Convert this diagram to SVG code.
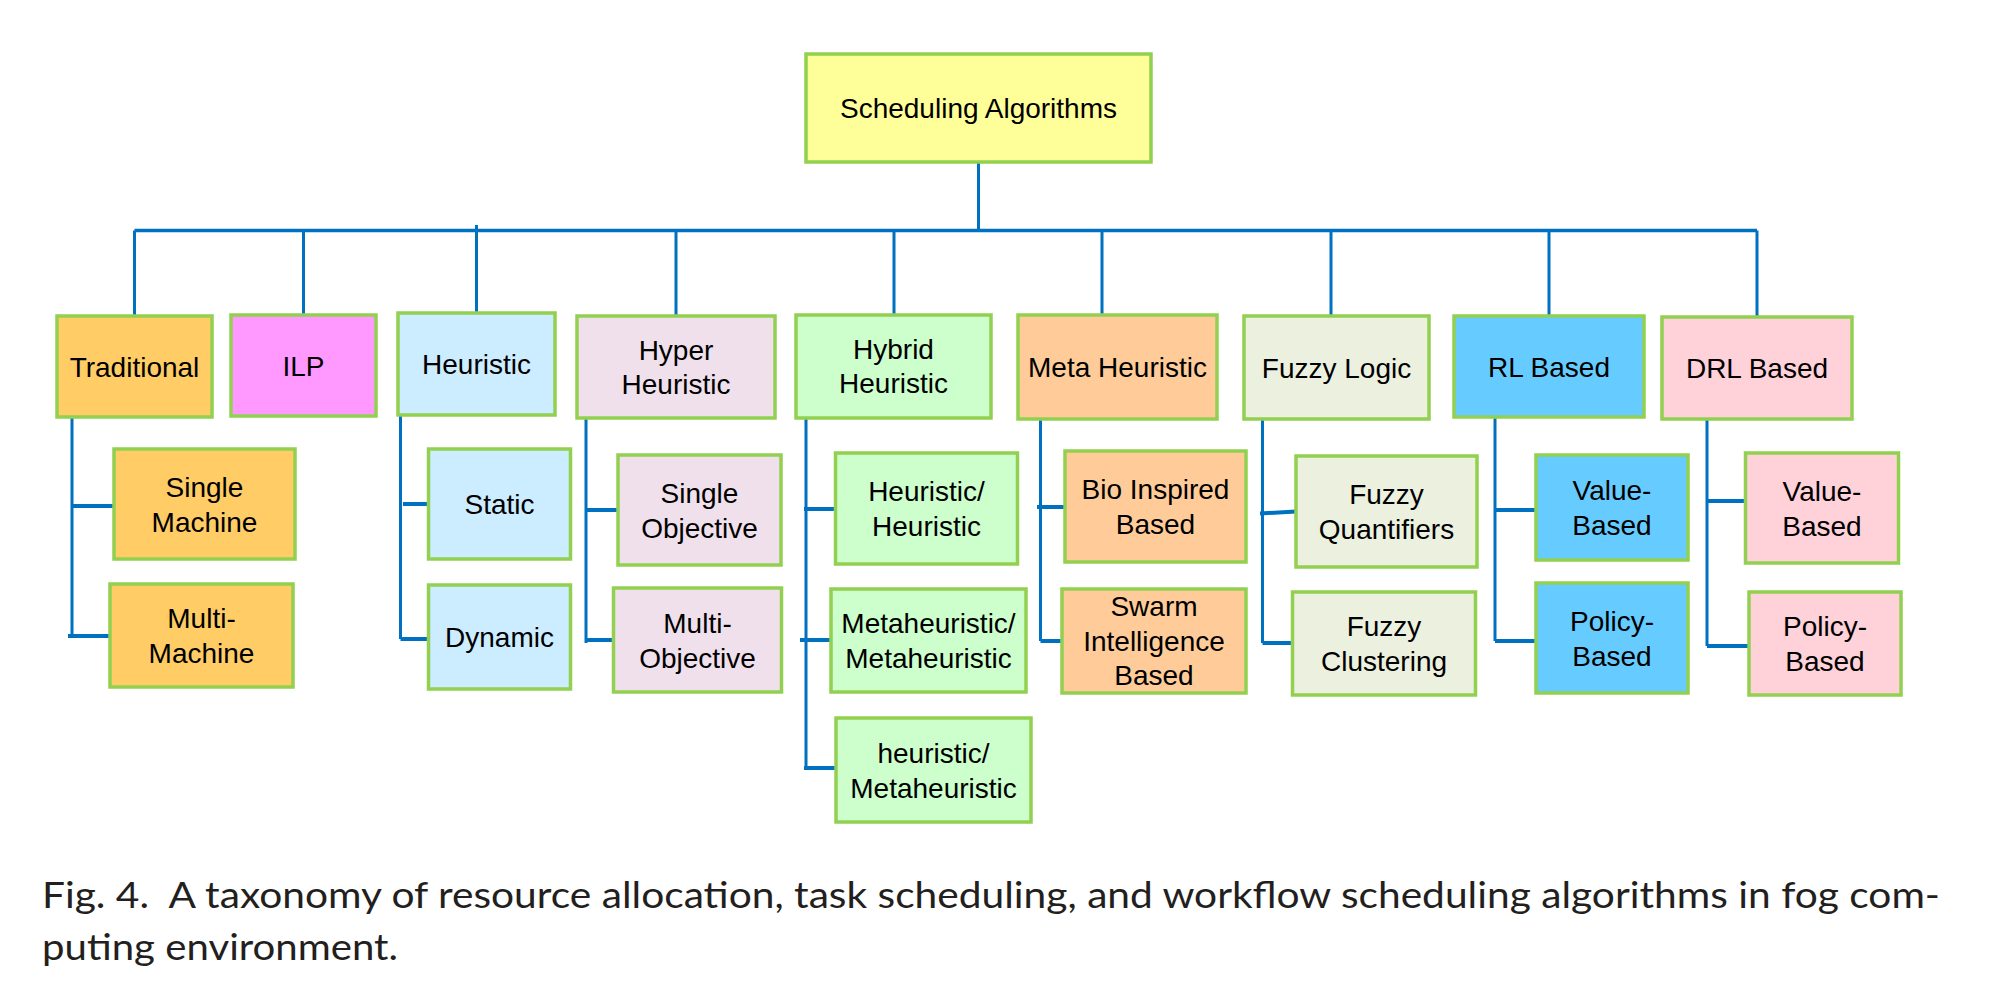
<svg xmlns="http://www.w3.org/2000/svg" width="2006" height="988" viewBox="0 0 2006 988">
<style>
.box{stroke:#92D050;stroke-width:3.5}
.t{font-family:"Liberation Sans",Arial,sans-serif;font-size:28px;fill:#000;text-anchor:middle}
.ln{stroke:#0070C0;stroke-width:3;fill:none}
.br{stroke:#0070C0;stroke-width:4;fill:none}
.cap{font-family:Lato,"Open Sans",sans-serif;font-size:37px;fill:#231F20}
.c-root{fill:#FFFF99}.c-trad{fill:#FFCC66}.c-ilp{fill:#FF99FF}.c-heur{fill:#CCECFF}.c-hyper{fill:#F0E0EC}
.c-hyb{fill:#CCFFCC}.c-meta{fill:#FFCC99}.c-fuz{fill:#EBF0DF}.c-rl{fill:#66CCFF}.c-drl{fill:#FFD1D9}
</style>
<rect width="2006" height="988" fill="#fff"/>
<g id="connectors">
<path class="ln" d="M978.5 162V232"/>
<path class="ln" style="stroke-width:3.5" d="M134.5 230.5H1757"/>
<path class="ln" d="M134.5 230.5V316M303.5 230.5V315M476.5 225V313M676 230.5V316M894 230.5V315M1102 230.5V315M1331 230.5V316M1549 230.5V316M1757 230.5V317"/>
<path class="ln" d="M72 417V636M400.5 415V639M586 418V643M806 418V768M1040.5 419V641M1262.5 419V643M1495 417V641M1707 419V646"/>
<path class="br" d="M72 506H114M68 636H110M403 504H428.5M400.5 639H428.5M586 510H618M586 640H613.5M804 509H835.5M800 640H831M804 768H836M1037 507H1065M1040.5 641H1062M1260 513.5L1296 511.5M1262.5 643H1292.5M1495 510H1536M1495 641H1536M1707 501H1745.5M1707 646H1749"/>
</g>
<g id="root"><rect class="box c-root" x="806" y="54" width="345" height="108"/><text class="t" x="978.5" y="118">Scheduling Algorithms</text></g>
<g id="traditional"><rect class="box c-trad" x="57" y="316" width="155" height="101"/><text class="t" x="134.5" y="376.5">Traditional</text></g>
<g id="ilp"><rect class="box c-ilp" x="231" y="315" width="145" height="101"/><text class="t" x="303.5" y="375.5">ILP</text></g>
<g id="heuristic"><rect class="box c-heur" x="398" y="313" width="157" height="102"/><text class="t" x="476.5" y="374">Heuristic</text></g>
<g id="hyper"><rect class="box c-hyper" x="577" y="316" width="198" height="102"/><text class="t" x="676" y="359.5">Hyper</text><text class="t" x="676" y="393.5">Heuristic</text></g>
<g id="hybrid"><rect class="box c-hyb" x="796" y="315" width="195" height="103"/><text class="t" x="893.5" y="359">Hybrid</text><text class="t" x="893.5" y="393">Heuristic</text></g>
<g id="meta"><rect class="box c-meta" x="1018" y="315" width="199" height="104"/><text class="t" x="1117.5" y="377">Meta Heuristic</text></g>
<g id="fuzzy"><rect class="box c-fuz" x="1244" y="316" width="185" height="103"/><text class="t" x="1336.5" y="377.5">Fuzzy Logic</text></g>
<g id="rl"><rect class="box c-rl" x="1454" y="316" width="190" height="101"/><text class="t" x="1549" y="376.5">RL Based</text></g>
<g id="drl"><rect class="box c-drl" x="1662" y="317" width="190" height="102"/><text class="t" x="1757" y="378">DRL Based</text></g>
<g id="single-machine"><rect class="box c-trad" x="114" y="449" width="181" height="110"/><text class="t" x="204.5" y="496.5">Single</text><text class="t" x="204.5" y="531.5">Machine</text></g>
<g id="multi-machine"><rect class="box c-trad" x="110" y="584" width="183" height="103"/><text class="t" x="201.5" y="628">Multi-</text><text class="t" x="201.5" y="663">Machine</text></g>
<g id="static"><rect class="box c-heur" x="428.5" y="449" width="142" height="110"/><text class="t" x="499.5" y="514">Static</text></g>
<g id="dynamic"><rect class="box c-heur" x="428.5" y="585" width="142" height="104"/><text class="t" x="499.5" y="647">Dynamic</text></g>
<g id="single-objective"><rect class="box c-hyper" x="618" y="455" width="163" height="110"/><text class="t" x="699.5" y="502.5">Single</text><text class="t" x="699.5" y="537.5">Objective</text></g>
<g id="multi-objective"><rect class="box c-hyper" x="613.5" y="588" width="168" height="104"/><text class="t" x="697.5" y="632.5">Multi-</text><text class="t" x="697.5" y="667.5">Objective</text></g>
<g id="heuristic-heuristic"><rect class="box c-hyb" x="835.5" y="453" width="182" height="111"/><text class="t" x="926.5" y="501">Heuristic/</text><text class="t" x="926.5" y="536">Heuristic</text></g>
<g id="meta-meta"><rect class="box c-hyb" x="831" y="589" width="195" height="103"/><text class="t" x="928.5" y="633">Metaheuristic/</text><text class="t" x="928.5" y="668">Metaheuristic</text></g>
<g id="heuristic-meta"><rect class="box c-hyb" x="836" y="718" width="195" height="104"/><text class="t" x="933.5" y="762.5">heuristic/</text><text class="t" x="933.5" y="797.5">Metaheuristic</text></g>
<g id="bio"><rect class="box c-meta" x="1065" y="451" width="181" height="111"/><text class="t" x="1155.5" y="499">Bio Inspired</text><text class="t" x="1155.5" y="534">Based</text></g>
<g id="swarm"><rect class="box c-meta" x="1062" y="589" width="184" height="104"/><text class="t" x="1154" y="616">Swarm</text><text class="t" x="1154" y="650.5">Intelligence</text><text class="t" x="1154" y="685">Based</text></g>
<g id="fuzzy-quantifiers"><rect class="box c-fuz" x="1296" y="456" width="181" height="111"/><text class="t" x="1386.5" y="504">Fuzzy</text><text class="t" x="1386.5" y="539">Quantifiers</text></g>
<g id="fuzzy-clustering"><rect class="box c-fuz" x="1292.5" y="592" width="183" height="103"/><text class="t" x="1384" y="636">Fuzzy</text><text class="t" x="1384" y="671">Clustering</text></g>
<g id="rl-value"><rect class="box c-rl" x="1536" y="455" width="152" height="105"/><text class="t" x="1612" y="500">Value-</text><text class="t" x="1612" y="535">Based</text></g>
<g id="rl-policy"><rect class="box c-rl" x="1536" y="583" width="152" height="110"/><text class="t" x="1612" y="630.5">Policy-</text><text class="t" x="1612" y="665.5">Based</text></g>
<g id="drl-value"><rect class="box c-drl" x="1745.5" y="453" width="153" height="110"/><text class="t" x="1822" y="500.5">Value-</text><text class="t" x="1822" y="535.5">Based</text></g>
<g id="drl-policy"><rect class="box c-drl" x="1749" y="592" width="152" height="103"/><text class="t" x="1825" y="636">Policy-</text><text class="t" x="1825" y="671">Based</text></g>
<g id="caption">
<text class="cap" x="42" y="908" textLength="1898" lengthAdjust="spacingAndGlyphs" xml:space="preserve">Fig. 4.  A taxonomy of resource allocation, task scheduling, and workflow scheduling algorithms in fog com-</text>
<text class="cap" x="42" y="960" textLength="356" lengthAdjust="spacingAndGlyphs">puting environment.</text>
</g>
</svg>
